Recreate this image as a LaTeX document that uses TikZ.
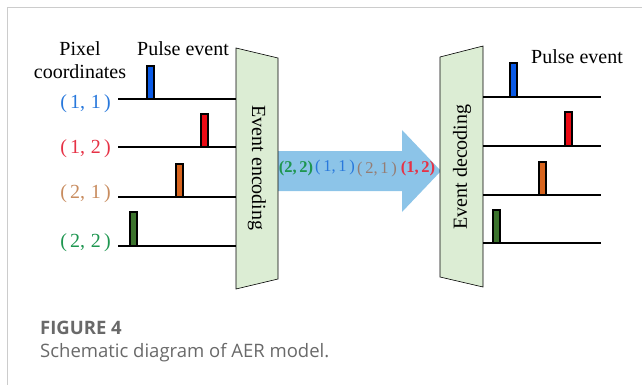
\documentclass[tikz,border=0pt]{standalone}
\usepackage{fontspec}
\setmainfont{Liberation Serif}
\newfontfamily\capfont{Open Sans}
\usetikzlibrary{arrows.meta, positioning}

\definecolor{gatefill}{RGB}{220,237,212}
\definecolor{busblue}{RGB}{140,196,232}
\definecolor{pblue}{RGB}{10,90,230}
\definecolor{pred}{RGB}{235,10,20}
\definecolor{porange}{RGB}{215,100,30}
\definecolor{pgreen}{RGB}{60,115,45}
\definecolor{tblue}{RGB}{40,120,220}
\definecolor{tred}{RGB}{230,50,70}
\definecolor{tbrown}{RGB}{200,140,95}
\definecolor{tgreen}{RGB}{30,150,80}
\definecolor{tgray}{RGB}{150,125,115}
\definecolor{capgray}{RGB}{105,105,105}

\tikzset{
  sigline/.style={line width=1.8pt},
  pulse/.style={draw=black, line width=1.1pt},
  gate/.style={draw=black, line width=0.6pt, fill=gatefill},
  lbl/.style={font=\fontsize{20}{23}\selectfont, inner sep=0pt},
  buslbl/.style={font=\fontsize{16.5}{18}\selectfont, inner sep=0pt},
}

\begin{document}
\begin{tikzpicture}[x=1pt, y=-1pt]
\useasboundingbox (0,0) rectangle (642,385);
% marco de la figura
\draw[line width=1.4pt, gray!40] (642,7.5) -- (7.5,7.5) -- (7.5,385);

% flecha del bus (queda debajo de los trapecios)
\fill[busblue] (278,151) -- (402,151) -- (402,130) -- (441,171)
  -- (402,212) -- (402,191) -- (278,191) -- cycle;
\node[buslbl, text=tgreen, font=\fontsize{16.5}{18}\selectfont\bfseries] (b22) at (296,169) {(2,\,2)};
\node[buslbl, text=tblue] (b11) at (335,168) {(\,1,\,1\,)};
\node[buslbl, text=tgray] (b21) at (377,170) {(\,2,\,1\,)};
\node[buslbl, text=tred, font=\fontsize{16.5}{18}\selectfont\bfseries] (b12) at (418,169) {(1,\,2)};

% trapecio de codificacion
\draw[gate] (236,48) -- (278,58) -- (278,279) -- (236,289) -- cycle;
\node[lbl, rotate=-90] (enc) at (257,168) {Event encoding};

% trapecio de decodificacion
\draw[gate] (440,57) -- (483,46) -- (483,287) -- (440,277) -- cycle;
\node[lbl, rotate=90] (dec) at (462,167) {Event decoding};

% lado izquierdo: coordenadas de pixel
\node[lbl, align=center] (pix) at (80,60) {Pixel\\coordinates};
\node[lbl] (pulseL) at (183,49) {Pulse event};
\node[lbl, text=tblue, anchor=east] (c11) at (111,104) {(\,1,\;1\,)};
\node[lbl, text=tred, anchor=east] (c12) at (111,149) {(\,1,\;2\,)};
\node[lbl, text=tbrown, anchor=east] (c21) at (111,194) {(\,2,\;1\,)};
\node[lbl, text=tgreen, anchor=east] (c22) at (111,243) {(\,2,\;2\,)};

\draw[sigline] (118,99) -- (236,99);
\draw[sigline] (118,147) -- (236,147);
\draw[sigline] (118,197) -- (236,197);
\draw[sigline] (118,246) -- (236,246);

\draw[pulse, fill=pblue] (147,66) rectangle (154,99);
\draw[pulse, fill=pred] (201,114) rectangle (208,147);
\draw[pulse, fill=porange] (176,164) rectangle (183,197);
\draw[pulse, fill=pgreen] (130,212) rectangle (137,246);

% lado derecho: eventos reconstruidos
\node[lbl] (pulseR) at (577,57) {Pulse event};

\draw[sigline] (483,97) -- (601,97);
\draw[sigline] (483,146) -- (601,146);
\draw[sigline] (483,195) -- (601,195);
\draw[sigline] (483,243) -- (601,243);

\draw[pulse, fill=pblue] (510,63) rectangle (517,97);
\draw[pulse, fill=pred] (565,112) rectangle (572,146);
\draw[pulse, fill=porange] (539,162) rectangle (546,195);
\draw[pulse, fill=pgreen] (493,210) rectangle (500,243);

% pie de figura
\node[anchor=base west, inner sep=0pt, text=capgray, font=\capfont\bfseries\fontsize{18.5}{20}\selectfont] (fig) at (40,334) {FIGURE 4};
\node[anchor=base west, inner sep=0pt, text=capgray, font=\capfont\fontsize{18.5}{20}\selectfont] (cap) at (40,357) {Schematic diagram of AER model.};
\end{tikzpicture}
\end{document}
